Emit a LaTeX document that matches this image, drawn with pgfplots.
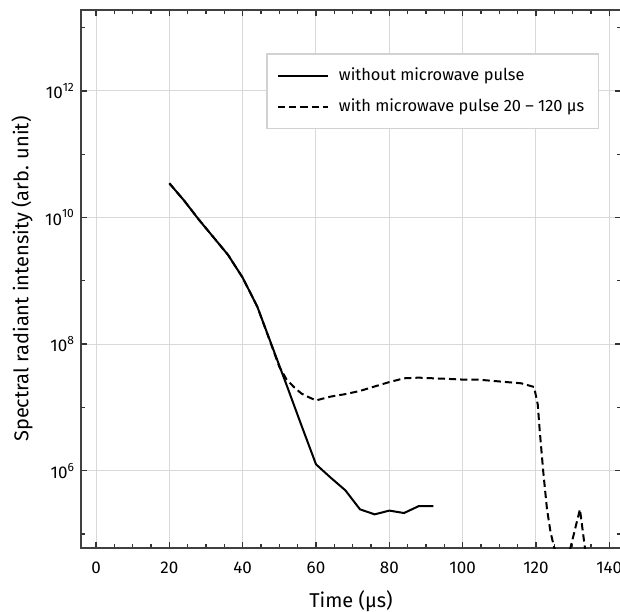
\documentclass[border=0pt]{standalone}
\usepackage{fontspec}
\setmainfont{Fira Sans}
\usepackage{pgfplots}
\pgfplotsset{compat=1.18}

% decade label in text font: 10 with small raised exponent
\newcommand{\dec}[1]{10\raisebox{0.42em}{\fontsize{6}{6}\selectfont #1}}

\pgfplotstableread{
t     I
20    3.47e10
24    1.86e10
28    9.33e9
32    4.90e9
36    2.57e9
40    1.12e9
44    3.89e8
48    9.33e7
52    2.24e7
56    5.25e6
60    1.26e6
64    7.76e5
68    4.90e5
72    2.45e5
76    2.04e5
80    2.34e5
84    2.14e5
88    2.75e5
92    2.75e5
}\nopulse

\pgfplotstableread{
t     I
20    3.47e10
24    1.86e10
28    9.33e9
32    4.90e9
36    2.57e9
40    1.12e9
44    3.89e8
48    9.12e7
50    4.37e7
52    2.75e7
54    2.09e7
56    1.66e7
58    1.45e7
60    1.29e7
64    1.48e7
68    1.62e7
72    1.82e7
76    2.14e7
80    2.51e7
84    2.88e7
88    2.95e7
92    2.88e7
96    2.82e7
100   2.75e7
104   2.75e7
108   2.63e7
112   2.51e7
116   2.40e7
119.5 2.10e7
120.5 1.10e7
121   4.50e6
122   9.50e5
123   2.50e5
124   1.05e5
125   6.03e4
126   4.17e4
128   2.82e4
132   2.45e5
136   3.98e3
}\withpulse

\begin{document}
\begin{tikzpicture}
\begin{axis}[
  scale only axis, width=270pt, height=269pt,
  ymode=log,
  xmin=-4.1, xmax=143.2, ymin=6.0e4, ymax=1.9e13,
  xtick={0,20,...,140}, minor x tick num=3,
  ytick={1e6,1e8,1e10,1e12},
  yticklabels={\dec{6},\dec{8},\dec{10},\dec{12}},
  minor ytick={1e5,1e7,1e9,1e11,1e13},
  tick align=inside,
  major tick length=3pt, minor tick length=1.8pt,
  tick style={black!80, line width=0.6pt},
  axis line style={black!75, line width=0.8pt},
  grid=major, major grid style={gray!30, line width=0.5pt},
  tick label style={font=\fontsize{8.5}{9}\selectfont},
  /pgf/number format/assume math mode=true,
  xticklabel style={yshift=-3.2pt},
  xlabel={Time (μs)},
  ylabel={Spectral radiant intensity (arb. unit)},
  label style={font=\fontsize{10.5}{12}\selectfont},
  every axis x label/.style={at={(axis description cs:0.5,-0.0985)}, anchor=center},
  every axis y label/.style={at={(axis description cs:-0.109,0.5)}, rotate=90, anchor=center},
  legend style={at={(axis description cs:0.959,0.9195)}, anchor=north east,
    draw=gray!35, line width=0.6pt, font=\fontsize{8.2}{9}\selectfont,
    inner xsep=5pt, inner ysep=5pt, row sep=3.5pt},
  legend cell align=left,
  legend image code/.code={\draw[#1] (0pt,0pt) -- (25pt,0pt); \path (28pt,0pt);},
]
\addplot[black, line width=1pt] table[x=t, y=I] {\nopulse};
\addlegendentry{without microwave pulse}
\addplot[black, line width=1pt, dash pattern=on 3.6pt off 2pt] table[x=t, y=I] {\withpulse};
\addlegendentry{with microwave pulse 20 – 120 μs}
\end{axis}
\pgfresetboundingbox
\path[use as bounding box] ([xshift=-40.5pt,yshift=-31.5pt]current axis.south west)
  rectangle ([xshift=-0.5pt,yshift=5pt]current axis.north east);
\end{tikzpicture}
\end{document}
